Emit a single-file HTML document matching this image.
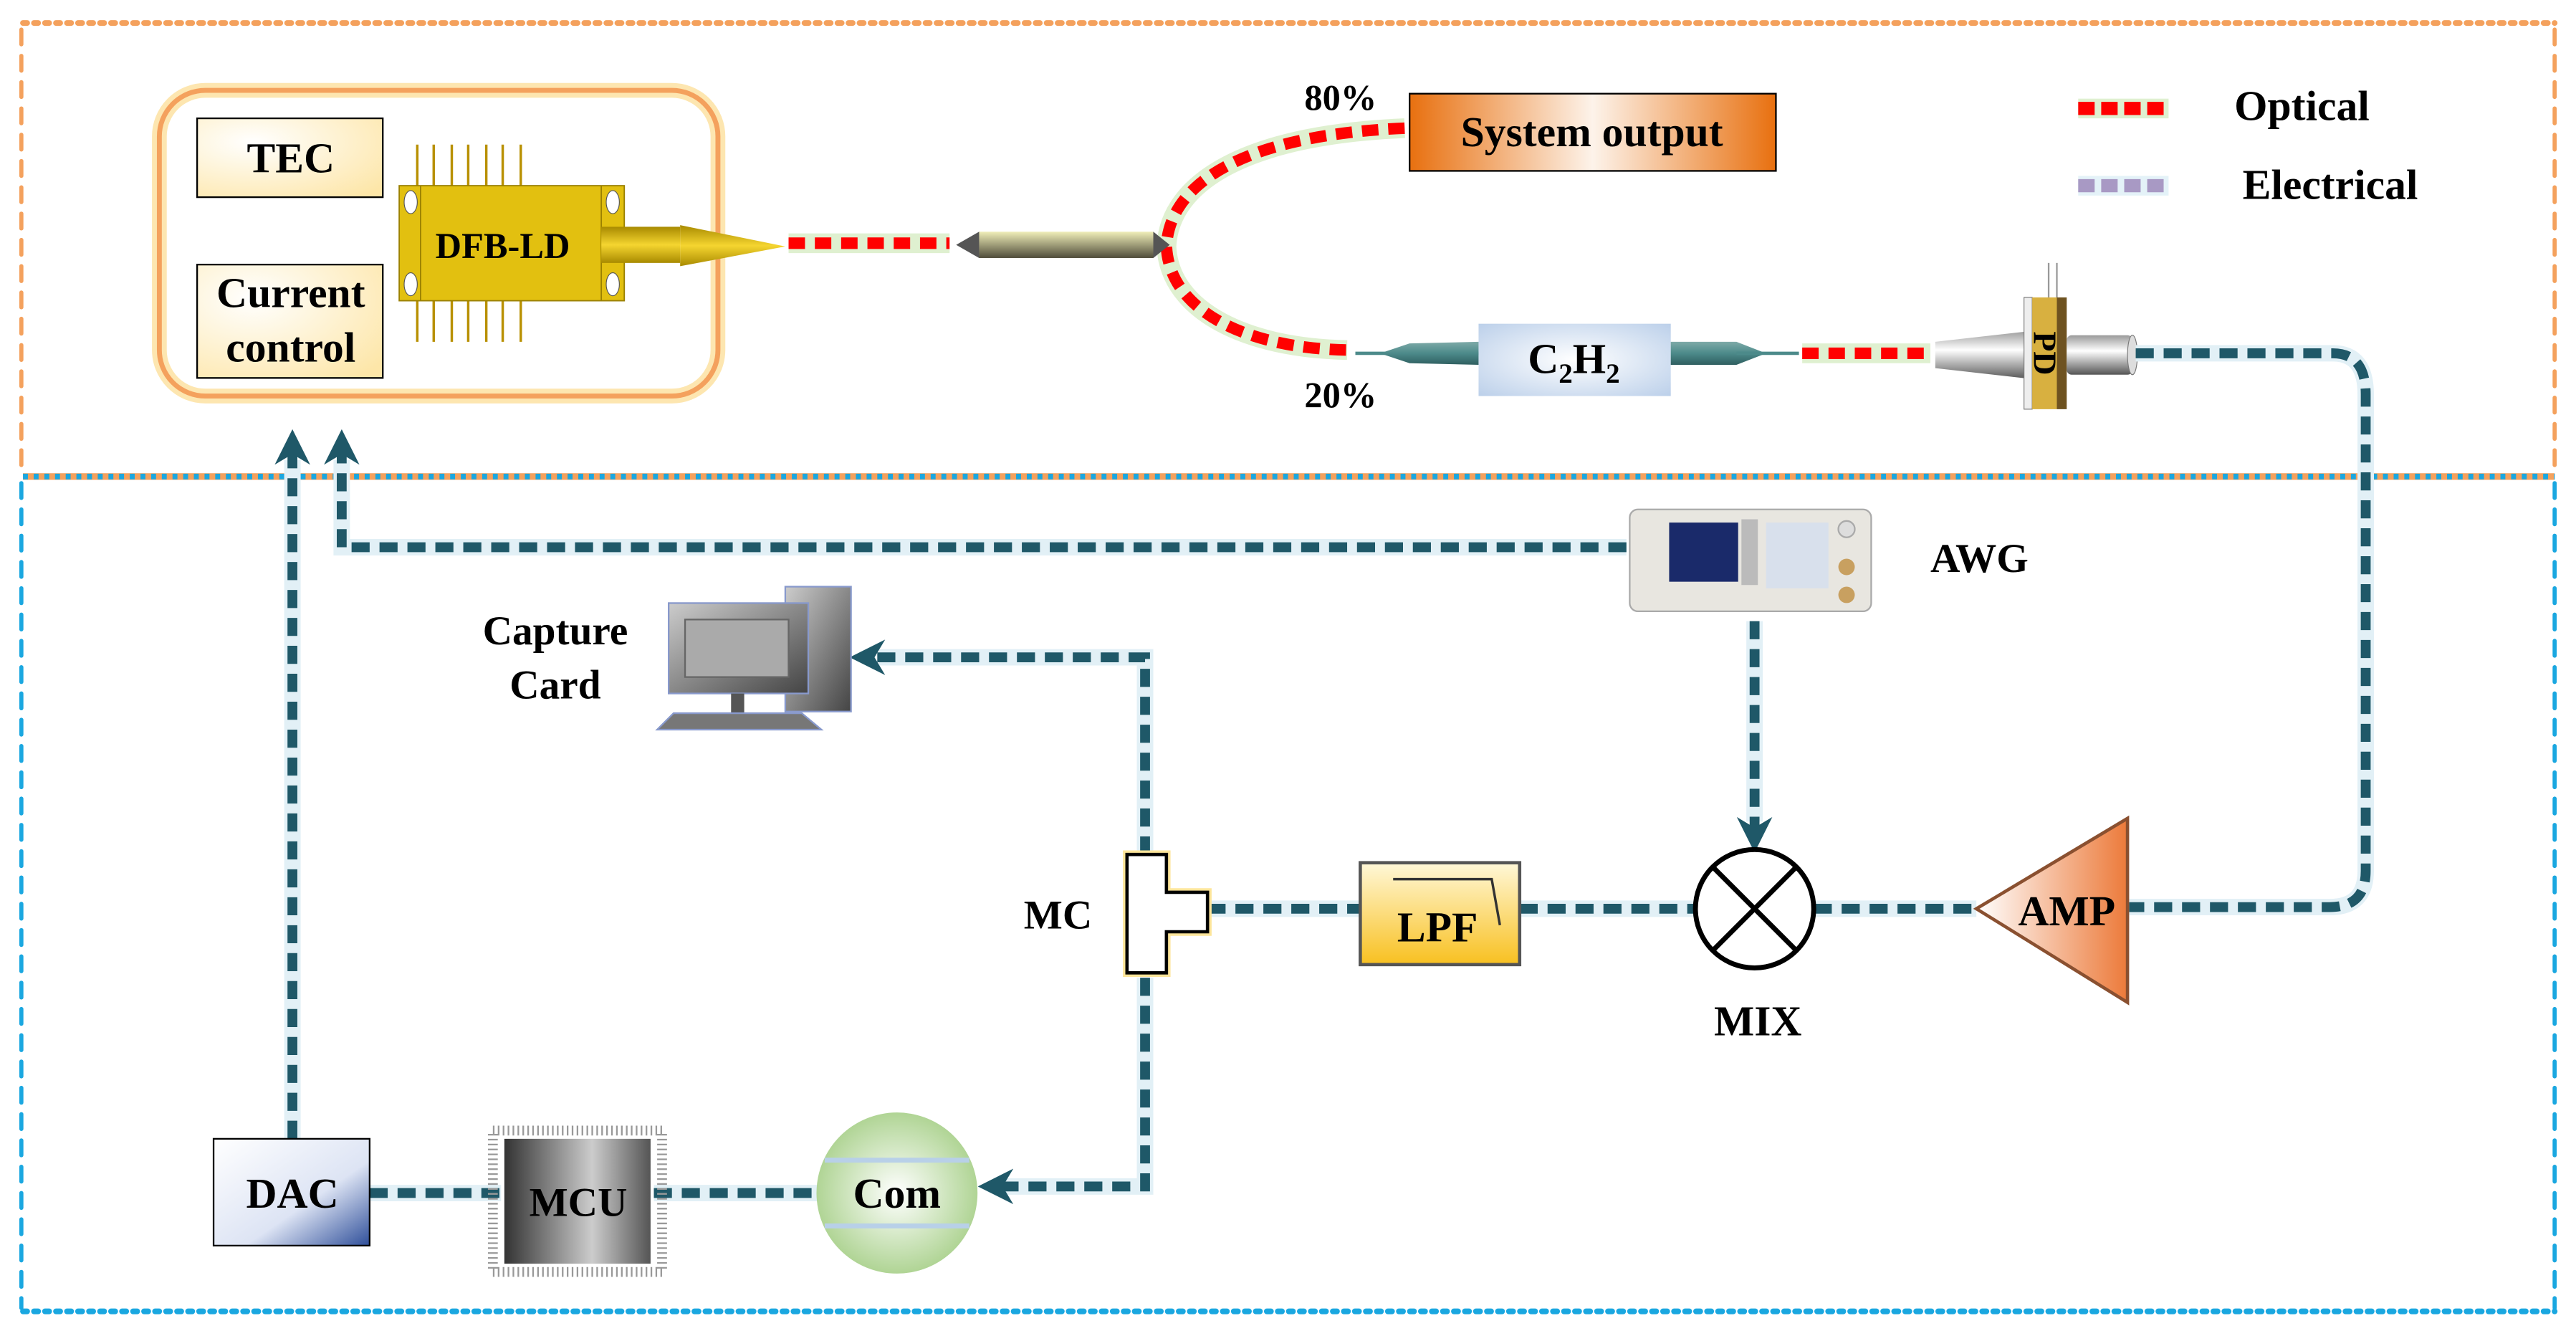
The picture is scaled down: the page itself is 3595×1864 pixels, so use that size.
<!DOCTYPE html>
<html><head><meta charset="utf-8"><style>
html,body{margin:0;padding:0;background:#fff;width:3595px;height:1864px;overflow:hidden}
svg{display:block}
text{font-family:"Liberation Serif",serif;font-weight:bold;fill:#000}
</style></head><body>
<svg width="3595" height="1864" viewBox="0 0 1568 813" preserveAspectRatio="none" xmlns="http://www.w3.org/2000/svg">
<defs>
<radialGradient id="cream" cx="0.3" cy="0.3" r="0.9"><stop offset="0" stop-color="#fff"/><stop offset="1" stop-color="#fde6a8"/></radialGradient>
<linearGradient id="sysg" x1="0" x2="1"><stop offset="0" stop-color="#e8700f"/><stop offset="0.5" stop-color="#fdf3ea"/><stop offset="1" stop-color="#e8700f"/></linearGradient>
<radialGradient id="c2h2" cx="0.5" cy="0.5" r="0.7"><stop offset="0" stop-color="#fff"/><stop offset="1" stop-color="#bcd0ea"/></radialGradient>
<linearGradient id="gold" x1="0" y1="0" x2="0" y2="1"><stop offset="0" stop-color="#a88a00"/><stop offset="0.5" stop-color="#f5d530"/><stop offset="1" stop-color="#a88a00"/></linearGradient>
<linearGradient id="coup" x1="0" y1="0" x2="0" y2="1"><stop offset="0" stop-color="#f0eeb8"/><stop offset="1" stop-color="#4f4c3a"/></linearGradient>
<linearGradient id="teal" x1="0" y1="0" x2="0" y2="1"><stop offset="0" stop-color="#7eaaa8"/><stop offset="0.5" stop-color="#4c8a8a"/><stop offset="1" stop-color="#2f5f60"/></linearGradient>
<linearGradient id="silver" x1="0" y1="0" x2="0" y2="1"><stop offset="0" stop-color="#999"/><stop offset="0.4" stop-color="#fff"/><stop offset="1" stop-color="#555"/></linearGradient>
<linearGradient id="lpf" x1="0" y1="0" x2="0" y2="1"><stop offset="0" stop-color="#fff8d8"/><stop offset="1" stop-color="#f8c020"/></linearGradient>
<linearGradient id="amp" x1="0" x2="1"><stop offset="0" stop-color="#fff"/><stop offset="1" stop-color="#ec7a3a"/></linearGradient>
<radialGradient id="com" cx="0.5" cy="0.5" r="0.55"><stop offset="0" stop-color="#fff"/><stop offset="1" stop-color="#a8d08a"/></radialGradient>
<linearGradient id="dac" x1="0" y1="0" x2="1" y2="1"><stop offset="0" stop-color="#fff"/><stop offset="0.6" stop-color="#dde4f4"/><stop offset="1" stop-color="#2f4f9a"/></linearGradient>
<linearGradient id="mcu" x1="0" x2="1"><stop offset="0" stop-color="#333"/><stop offset="0.6" stop-color="#ccc"/><stop offset="1" stop-color="#555"/></linearGradient>
<linearGradient id="pc" x1="0" y1="0" x2="1" y2="1"><stop offset="0" stop-color="#ccc"/><stop offset="1" stop-color="#444"/></linearGradient>
<marker id="ah" viewBox="0 0 10 10" refX="5" refY="5" markerWidth="3.6" markerHeight="3.6" orient="auto"><path d="M0,0 L10,5 L0,10 L3,5z" fill="#1f5868"/></marker>
</defs>

<!-- region borders -->
<line x1="14" y1="14" x2="1555" y2="14" stroke="#f4a15d" stroke-width="3.5" stroke-dasharray="2.5 4.2" stroke-linecap="round"/>
<line x1="13" y1="18" x2="13" y2="286" stroke="#f4a15d" stroke-width="2.5" stroke-dasharray="9 7" stroke-linecap="round"/>
<line x1="1555" y1="18" x2="1555" y2="286" stroke="#f4a15d" stroke-width="2.5" stroke-dasharray="9 7" stroke-linecap="round"/>
<line x1="14" y1="290" x2="1555" y2="290" stroke="#f4a15d" stroke-width="4"/>
<line x1="14" y1="290" x2="1555" y2="290" stroke="#1aa7e0" stroke-width="3.5" stroke-dasharray="3 3.5"/>
<line x1="13" y1="294" x2="13" y2="796" stroke="#1aa7e0" stroke-width="2.5" stroke-dasharray="9 7" stroke-linecap="round"/>
<line x1="1555" y1="294" x2="1555" y2="796" stroke="#1aa7e0" stroke-width="2.5" stroke-dasharray="9 7" stroke-linecap="round"/>
<line x1="14" y1="798" x2="1555" y2="798" stroke="#1aa7e0" stroke-width="3.5" stroke-dasharray="2.5 4.2" stroke-linecap="round"/>

<!-- laser box -->
<rect x="97" y="55" width="340" height="186" rx="28" fill="#fff" stroke="#fde6b0" stroke-width="9"/>
<rect x="97" y="55" width="340" height="186" rx="28" fill="none" stroke="#f4a15d" stroke-width="3"/>
<rect x="120" y="72" width="113" height="48" fill="url(#cream)" stroke="#000" stroke-width="1"/>
<text x="177" y="105" font-size="26" text-anchor="middle">TEC</text>
<rect x="120" y="161" width="113" height="69" fill="url(#cream)" stroke="#000" stroke-width="1"/>
<text x="177" y="187" font-size="26" text-anchor="middle">Current</text>
<text x="177" y="220" font-size="26" text-anchor="middle">control</text>
<!-- DFB -->
<g stroke="#b89000" stroke-width="1.5">
<line x1="254" y1="88" x2="254" y2="113"/><line x1="264" y1="88" x2="264" y2="113"/><line x1="275" y1="88" x2="275" y2="113"/><line x1="285" y1="88" x2="285" y2="113"/><line x1="296" y1="88" x2="296" y2="113"/><line x1="306" y1="88" x2="306" y2="113"/><line x1="317" y1="88" x2="317" y2="113"/>
<line x1="254" y1="183" x2="254" y2="208"/><line x1="264" y1="183" x2="264" y2="208"/><line x1="275" y1="183" x2="275" y2="208"/><line x1="285" y1="183" x2="285" y2="208"/><line x1="296" y1="183" x2="296" y2="208"/><line x1="306" y1="183" x2="306" y2="208"/><line x1="317" y1="183" x2="317" y2="208"/>
</g>
<rect x="243" y="113" width="137" height="70" fill="#e2c010" stroke="#9a8000" stroke-width="0.8"/>
<line x1="256" y1="113" x2="256" y2="183" stroke="#9a8000" stroke-width="0.8"/>
<line x1="366" y1="113" x2="366" y2="183" stroke="#9a8000" stroke-width="0.8"/>
<ellipse cx="250" cy="123" rx="4" ry="7" fill="#fff" stroke="#555" stroke-width="0.5"/>
<ellipse cx="250" cy="173" rx="4" ry="7" fill="#fff" stroke="#555" stroke-width="0.5"/>
<ellipse cx="373" cy="123" rx="4" ry="7" fill="#fff" stroke="#555" stroke-width="0.5"/>
<ellipse cx="373" cy="173" rx="4" ry="7" fill="#fff" stroke="#555" stroke-width="0.5"/>
<rect x="366" y="138" width="48" height="22" fill="url(#gold)"/>
<path d="M414,137 L478,150 L414,162z" fill="url(#gold)"/>
<text x="306" y="157" font-size="22" text-anchor="middle">DFB-LD</text>

<!-- optical lines -->
<g fill="none">
<path d="M480,148 L578,148" stroke="#dff0d0" stroke-width="12"/>
<path d="M480,148 L578,148" stroke="#f00" stroke-width="7" stroke-dasharray="10 6"/>
<path d="M855,78 C760,82 712,110 710,150 C712,190 760,212 820,213" stroke="#dff0d0" stroke-width="12"/>
<path d="M855,78 C760,82 712,110 710,150 C712,190 760,212 820,213" stroke="#f00" stroke-width="7" stroke-dasharray="10 6"/>
<path d="M1097,215 L1175,215" stroke="#dff0d0" stroke-width="12"/>
<path d="M1097,215 L1175,215" stroke="#f00" stroke-width="7" stroke-dasharray="10 6"/>
</g>
<!-- coupler -->
<path d="M582,149 L596,141 L596,157z" fill="#555"/>
<rect x="596" y="141" width="106" height="16" fill="url(#coup)"/>
<path d="M702,141 L712,149 L702,157z" fill="#555"/>
<text x="816" y="67" font-size="22" text-anchor="middle">80%</text>
<text x="816" y="248" font-size="22" text-anchor="middle">20%</text>
<rect x="858" y="57" width="223" height="47" fill="url(#sysg)" stroke="#000" stroke-width="1"/>
<text x="969" y="89" font-size="26" text-anchor="middle">System output</text>
<!-- C2H2 -->
<line x1="825" y1="215" x2="900" y2="215" stroke="#4c8a8a" stroke-width="2"/>
<path d="M840,215 L858,209 L900,208 L900,222 L858,221z" fill="url(#teal)"/>
<rect x="900" y="197" width="117" height="44" fill="url(#c2h2)"/>
<path d="M1017,208 L1057,208 L1075,215 L1057,222 L1017,222z" fill="url(#teal)"/>
<line x1="1057" y1="215" x2="1095" y2="215" stroke="#4c8a8a" stroke-width="2"/>
<text x="958" y="227" font-size="26" text-anchor="middle">C<tspan font-size="17" dy="6">2</tspan><tspan dy="-6">H</tspan><tspan font-size="17" dy="6">2</tspan></text>
<!-- PD -->
<line x1="1247" y1="160" x2="1247" y2="182" stroke="#999" stroke-width="1"/>
<line x1="1252" y1="160" x2="1252" y2="182" stroke="#999" stroke-width="1"/>
<path d="M1178,208 L1240,201 L1240,231 L1178,224z" fill="url(#silver)"/>
<rect x="1232" y="181" width="5" height="68" fill="#eee" stroke="#777" stroke-width="0.5"/>
<rect x="1237" y="181" width="15" height="68" fill="#d8b040"/>
<rect x="1252" y="181" width="6" height="68" fill="#6e5220"/>
<rect x="1258" y="204" width="40" height="24" rx="3" fill="url(#silver)"/>
<ellipse cx="1298" cy="216" rx="3" ry="12" fill="#ddd" stroke="#777" stroke-width="0.5"/>
<text transform="translate(1245,215) rotate(90)" font-size="20" text-anchor="middle" dy="7">PD</text>

<!-- legend -->
<line x1="1265" y1="66" x2="1320" y2="66" stroke="#dff0d0" stroke-width="12"/>
<line x1="1265" y1="66" x2="1320" y2="66" stroke="#f00" stroke-width="8" stroke-dasharray="10 4"/>
<text x="1360" y="73" font-size="26">Optical</text>
<line x1="1265" y1="113" x2="1320" y2="113" stroke="#e4f2f8" stroke-width="12"/>
<line x1="1265" y1="113" x2="1320" y2="113" stroke="#a899c4" stroke-width="8" stroke-dasharray="10 4"/>
<text x="1365" y="121" font-size="26">Electrical</text>

<!-- electrical lines -->
<g fill="none" stroke="#e2f0f6" stroke-width="10">
<path d="M1300,215 L1420,215 Q1440,215 1440,240 L1440,530 Q1440,552 1418,552 L1296,552"/>
<path d="M1104,553 L1203,553"/><path d="M925,553 L1032,553"/><path d="M735,553 L828,553"/>
<path d="M990,333 L208,333 L208,280"/><path d="M178,693 L178,280"/>
<path d="M697,520 L697,400 L535,400"/><path d="M697,595 L697,722 L612,722"/>
<path d="M1068,378 L1068,500"/><path d="M225,726 L305,726"/><path d="M398,726 L498,726"/>
</g>
<g fill="none" stroke="#1f5868" stroke-width="6" stroke-dasharray="11 6">
<path d="M1300,215 L1420,215 Q1440,215 1440,240 L1440,530 Q1440,552 1418,552 L1296,552"/>
<path d="M1104,553 L1203,553"/>
<path d="M925,553 L1032,553"/>
<path d="M735,553 L828,553"/>
<path d="M990,333 L208,333 L208,272" marker-end="url(#ah)"/>
<path d="M178,693 L178,272" marker-end="url(#ah)"/>
<path d="M697,520 L697,400 L528,400" marker-end="url(#ah)"/>
<path d="M697,595 L697,722 L606,722" marker-end="url(#ah)"/>
<path d="M1068,378 L1068,508" marker-end="url(#ah)"/>
<path d="M225,726 L305,726"/>
<path d="M398,726 L498,726"/>
</g>

<!-- AWG -->
<rect x="992" y="310" width="147" height="62" rx="5" fill="#e8e6e0" stroke="#aaa"/>
<rect x="1016" y="318" width="42" height="36" fill="#1a2a6a"/>
<rect x="1060" y="316" width="10" height="40" fill="#bbb"/>
<rect x="1075" y="318" width="38" height="40" fill="#d8e0ec"/>
<circle cx="1124" cy="345" r="5" fill="#c8a060"/><circle cx="1124" cy="362" r="5" fill="#c8a060"/>
<circle cx="1124" cy="322" r="5" fill="#ddd" stroke="#aaa"/>
<text x="1175" y="348" font-size="25">AWG</text>

<!-- PC -->
<rect x="478" y="357" width="40" height="76" fill="url(#pc)" stroke="#8899cc"/>
<rect x="407" y="367" width="85" height="55" fill="url(#pc)" stroke="#8899cc"/>
<rect x="417" y="377" width="63" height="35" fill="#aaa" stroke="#666"/>
<rect x="445" y="422" width="8" height="12" fill="#555"/>
<path d="M410,434 L488,434 L500,444 L400,444z" fill="#777" stroke="#8899cc"/>
<text x="338" y="392" font-size="25" text-anchor="middle">Capture</text>
<text x="338" y="425" font-size="25" text-anchor="middle">Card</text>

<!-- MC -->
<path d="M686,520 L710,520 L710,543 L735,543 L735,567 L710,567 L710,592 L686,592z" fill="#fff" stroke="#fde59a" stroke-width="5"/>
<path d="M686,520 L710,520 L710,543 L735,543 L735,567 L710,567 L710,592 L686,592z" fill="#fff" stroke="#000" stroke-width="2"/>
<text x="644" y="565" font-size="25" text-anchor="middle">MC</text>
<!-- LPF -->
<rect x="828" y="525" width="97" height="62" fill="url(#lpf)" stroke="#555" stroke-width="2"/>
<path d="M848,535 L908,535 L913,563" fill="none" stroke="#333" stroke-width="1.5"/>
<text x="875" y="573" font-size="26" text-anchor="middle">LPF</text>
<!-- MIX -->
<circle cx="1068" cy="553" r="36" fill="#fff" stroke="#000" stroke-width="3"/>
<line x1="1043" y1="528" x2="1093" y2="578" stroke="#000" stroke-width="3"/>
<line x1="1093" y1="528" x2="1043" y2="578" stroke="#000" stroke-width="3"/>
<text x="1070" y="630" font-size="26" text-anchor="middle">MIX</text>
<!-- AMP -->
<path d="M1203,553 L1295,498 L1295,610z" fill="url(#amp)" stroke="#8a5030" stroke-width="2"/>
<text x="1258" y="563" font-size="26" text-anchor="middle">AMP</text>

<!-- DAC -->
<rect x="130" y="693" width="95" height="65" fill="url(#dac)" stroke="#000" stroke-width="1"/>
<text x="178" y="735" font-size="26" text-anchor="middle">DAC</text>
<!-- MCU -->
<rect x="300" y="688" width="103" height="86" fill="none" stroke="#999" stroke-width="6" stroke-dasharray="1 2"/>
<rect x="307" y="693" width="89" height="76" fill="url(#mcu)"/>
<text x="352" y="740" font-size="25" text-anchor="middle">MCU</text>
<!-- Com -->
<circle cx="546" cy="726" r="49" fill="url(#com)"/>
<line x1="502" y1="706" x2="590" y2="706" stroke="#b8d0e8" stroke-width="3"/>
<line x1="502" y1="746" x2="590" y2="746" stroke="#b8d0e8" stroke-width="3"/>
<text x="546" y="735" font-size="26" text-anchor="middle">Com</text>
</svg>
</body></html>
